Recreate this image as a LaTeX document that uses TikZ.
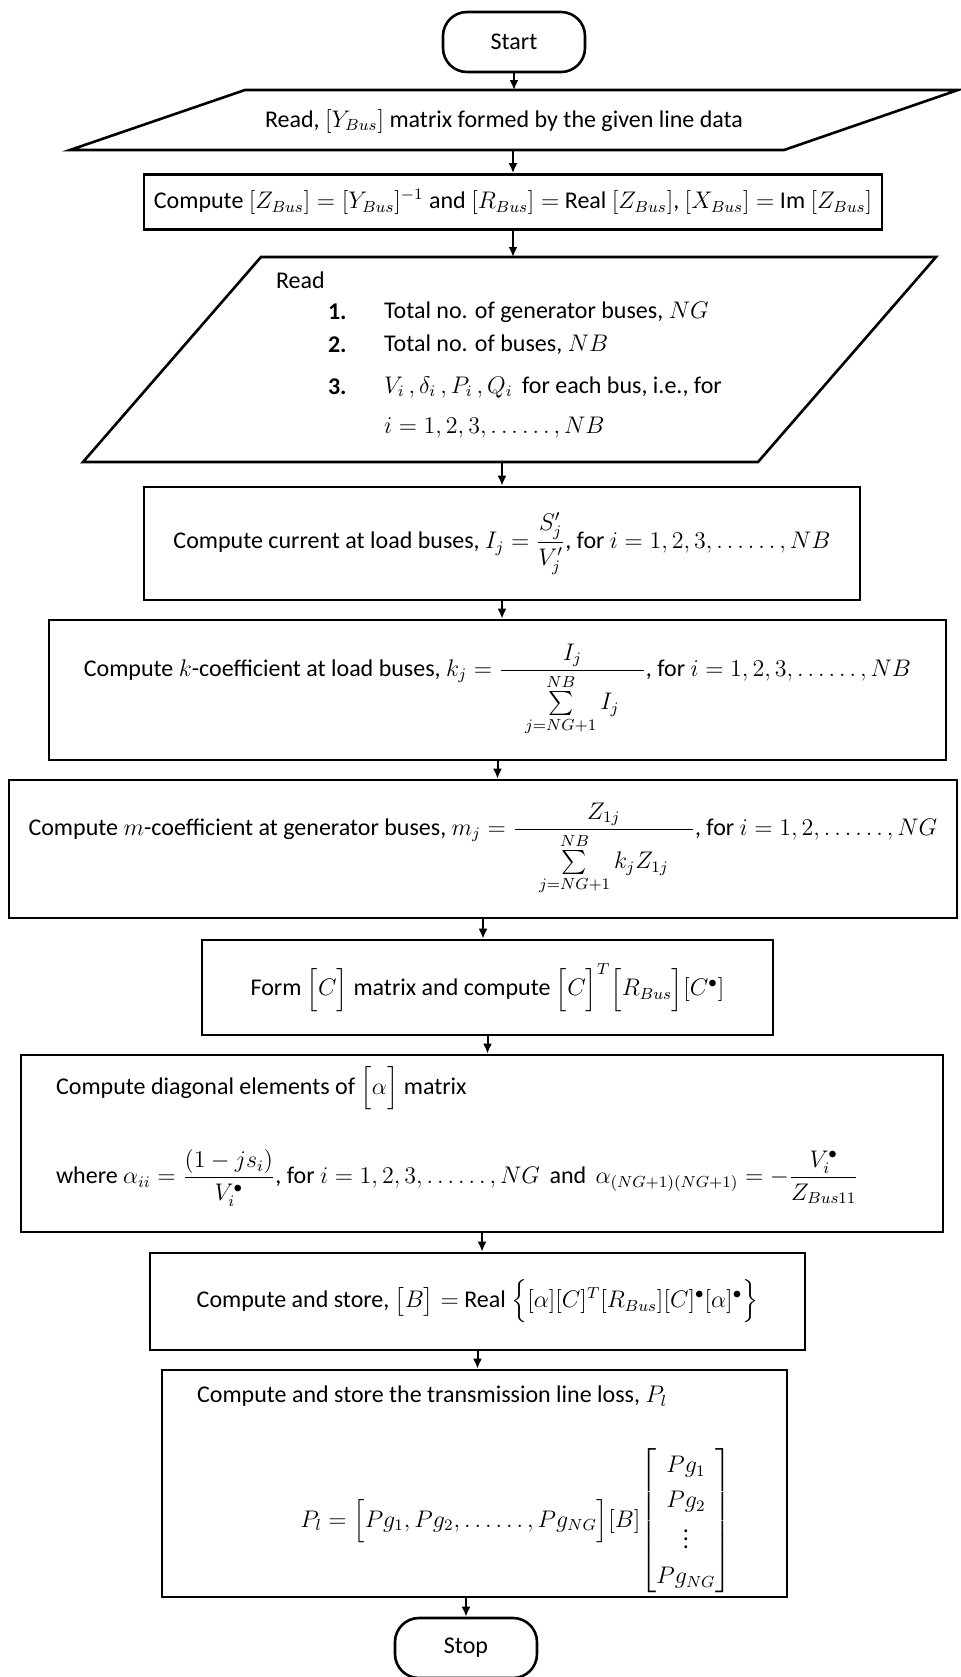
\documentclass[tikz,border=0pt]{standalone}
\usepackage{amsmath}
\usepackage{fontspec}
\setmainfont{Carlito}
\usetikzlibrary{arrows.meta}

\tikzset{
  box/.style={draw, line width=1.3pt, inner sep=0pt},
  termbox/.style={draw, line width=1.3pt, rounded corners=12pt,
    minimum width=71pt, minimum height=30pt},
  para/.style={line width=1.3pt, line join=miter},
  arr/.style={line width=1pt, -{Latex[length=5pt,width=4.5pt]}},
}

\begin{document}
\begin{tikzpicture}[x=0.5pt, y=-0.5pt, font=\fontsize{12}{14}\selectfont]
  \useasboundingbox (0,0) rectangle (960,1677);

  \node[termbox] (start) at (514,42) {Start};

  % read line data
  \draw[para] (70,150) -- (245,90) -- (958,90) -- (784,150) -- cycle;
  \coordinate (ybus-n) at (514,90);
  \coordinate (ybus-s) at (513,150);
  \node (ybus) at (504,121) {Read, $[Y_{Bus}]$ matrix formed by the given line data};

  \node[box, minimum width=369pt, minimum height=27.5pt] (zbus) at (513,202)
    {Compute $[Z_{Bus}] = [Y_{Bus}]^{-1}$ and $[R_{Bus}] =$ Real $[Z_{Bus}]$, $[X_{Bus}] =$ Im $[Z_{Bus}]$};

  % read bus data
  \draw[para] (83,462) -- (261,257) -- (936,257) -- (758,462) -- cycle;
  \coordinate (rd-n) at (513,257);
  \coordinate (rd-s) at (502,462);
  \node[anchor=west] (rdhead) at (269,280) {Read};
  \node[anchor=west] (rdno1) at (321,312) {\textbf{1.}};
  \node[anchor=west] (rdtx1) at (377,312) {Total no. of generator buses, $NG$};
  \node[anchor=west] (rdno2) at (321,345) {\textbf{2.}};
  \node[anchor=west] (rdtx2) at (377,345) {Total no. of buses, $NB$};
  \node[anchor=west] (rdno3) at (321,387) {\textbf{3.}};
  \node[anchor=west] (rdtx3) at (377,387) {$V_i\,, \delta_i\,, P_i\,, Q_i$\, for each bus, i.e., for};
  \node[anchor=west] (rdtx4) at (377,428) {$i = 1, 2, 3, \ldots\ldots, NB$};

  \node[box, minimum width=358pt, minimum height=56.5pt] (curr) at (502,543.5)
    {Compute current at load buses, $I_j = \dfrac{S'_j}{V'_j}$, for $i = 1, 2, 3, \ldots\ldots, NB$};

  \node[box, minimum width=448.5pt, minimum height=70pt] (kcoef) at (497.5,690)
    {Compute $k$-coefficient at load buses, $k_j = \dfrac{I_j}{\mkern18mu\textstyle\sum\limits_{j=NG+1}^{NB} I_j\mkern18mu}$, for $i = 1, 2, 3, \ldots\ldots, NB$};

  \node[box, minimum width=474pt, minimum height=69pt] (mcoef) at (483,849)
    {Compute $m$-coefficient at generator buses, $m_j = \dfrac{Z_{1j}}{\mkern18mu\textstyle\sum\limits_{j=NG+1}^{NB} k_j Z_{1j}\mkern18mu}$, for $i = 1, 2, \ldots\ldots, NG$};

  \node[box, minimum width=285.5pt, minimum height=47.5pt] (formc) at (487.5,987.5)
    {Form $\Big[C\Big]$ matrix and compute $\Big[C\Big]^T\Big[R_{Bus}\Big][C^{\bullet}]$};

  % diagonal elements of alpha
  \node[box, minimum width=461pt, minimum height=88.5pt] (alpha) at (482,1143.5) {};
  \node[anchor=west] (alpha1) at (49,1088) {Compute diagonal elements of $\Big[\alpha\Big]$ matrix};
  \node[anchor=west] (alpha2) at (49,1178)
    {where $\alpha_{ii} = \dfrac{(1-js_i)}{V_i^{\bullet}}$, for $i = 1, 2, 3, \ldots\ldots, NG$\, and\, $\alpha_{(NG+1)(NG+1)} = -\dfrac{V_i^{\bullet}}{Z_{Bus11}}$};

  \node[box, minimum width=327.5pt, minimum height=48.5pt] (bmat) at (477.5,1301.5)
    {Compute and store, $\big[B\big] =$ Real $\Big\{[\alpha][C]^T[R_{Bus}][C]^{\bullet}[\alpha]^{\bullet}\Big\}$};

  % line loss
  \node[box, minimum width=312.5pt, minimum height=113.5pt] (ploss) at (474.5,1483.5) {};
  \node[anchor=west] (ploss1) at (190,1396) {Compute and store the transmission line loss, $P_l$};
  \node[anchor=west, inner sep=0pt] (ploss2) at (300,1521)
    {$P_l = \Big[Pg_1, Pg_2, \ldots\ldots, Pg_{NG}\Big][B]
      {\renewcommand{\arraystretch}{1.25}\begin{bmatrix} Pg_1\\ Pg_2\\ \vdots\\ Pg_{NG}\end{bmatrix}}$};

  \node[termbox] (stop) at (466,1648) {Stop};

  \draw[arr] (start.south) -- (ybus-n);
  \draw[arr] (ybus-s) -- (ybus-s |- zbus.north);
  \draw[arr] (zbus.south) -- (rd-n);
  \draw[arr] (rd-s) -- (rd-s |- curr.north);
  \draw[arr] (curr.south) -- (curr.south |- kcoef.north);
  \draw[arr] (kcoef.south) -- (kcoef.south |- mcoef.north);
  \draw[arr] (mcoef.south) -- (mcoef.south |- formc.north);
  \draw[arr] (formc.south) -- (formc.south |- alpha.north);
  \draw[arr] (alpha.south) -- (alpha.south |- bmat.north);
  \draw[arr] (bmat.south) -- (bmat.south |- ploss.north);
  \draw[arr] (stop.north |- ploss.south) -- (stop.north);
\end{tikzpicture}
\end{document}
